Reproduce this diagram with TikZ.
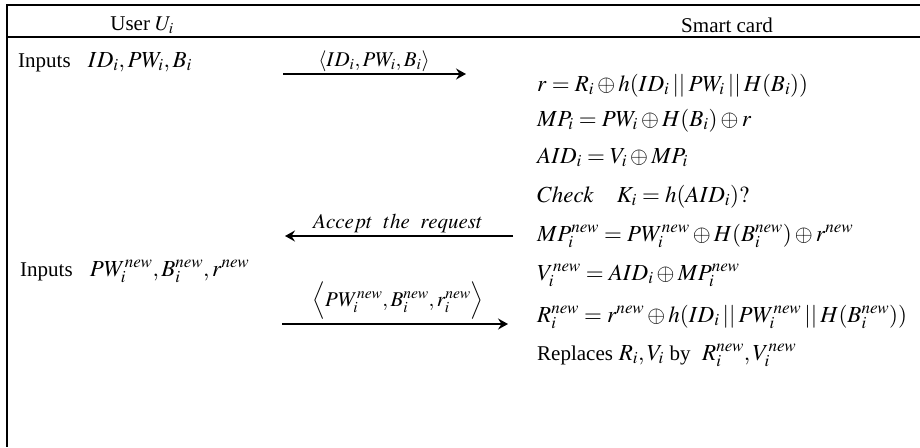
\documentclass[tikz,border=0pt]{standalone}
\usepackage{mathptmx}
\usepackage[no-math]{fontspec}
\setmainfont{Liberation Serif}
\usetikzlibrary{arrows.meta}
\tikzset{
  txt/.style={inner sep=0pt, font=\fontsize{21}{25}\selectfont},
  eqt/.style={inner sep=0pt, font=\fontsize{23}{27}\selectfont, text height=16pt, text depth=6pt},
  eq/.style={eqt, anchor=base west},
  rule/.style={line width=1.3pt},
  msg/.style={line width=1.6pt, -{Stealth[length=10pt,width=11pt,inset=3.5pt]}}
}
\newcommand{\cat}{\mathbin{||}}
\newcommand{\tx}[1]{{\fontsize{21}{25}\selectfont #1}}
\begin{document}
\begin{tikzpicture}[x=1pt,y=1pt]
\useasboundingbox (0,0) rectangle (920,-447);
% frame
\coordinate (tl) at (7,-5);
\coordinate (tr) at (920,-5);
\coordinate (hl) at (7,-37);
\coordinate (hr) at (920,-37);
\coordinate (bl) at (7,-447);
\draw[rule] (tr) -- (tl) -- (bl);
\draw[rule] (hl) -- (hr);
% header
\node[txt] (hu) at (142,-25) {User $U_i$};
\node[txt] (hs) at (727,-25) {Smart card};
% user side
\node[eq] (in1) at (18,-67) {\tx{Inputs}\ \ \ $ID_i, PW_i, B_i$};
\node[eq] (in2) at (20,-276) {\tx{Inputs}\ \ \ $PW_i^{new}, B_i^{new}, r^{new}$};
% messages
\coordinate (a1s) at (283,-74);
\coordinate (a1e) at (466,-74);
\draw[msg] (a1s) -- (a1e);
\node[txt, anchor=base] (m1) at (374,-66) {$\langle ID_i, PW_i, B_i\rangle$};
\coordinate (a2s) at (513,-236);
\coordinate (a2e) at (285,-236);
\draw[msg] (a2s) -- (a2e);
\node[txt, anchor=base] (m2) at (398,-228) {$Accept\ \ the\ \ request$};
\coordinate (a3s) at (282,-324);
\coordinate (a3e) at (508,-324);
\draw[msg] (a3s) -- (a3e);
\node[txt, anchor=south] (m3) at (398,-320) {$\Big\langle PW_i^{new}, B_i^{new}, r_i^{new}\Big\rangle$};
% smart card side
\node[eq] (e1) at (537,-91) {$r = R_i \oplus h(ID_i \cat PW_i \cat H(B_i))$};
\node[eq] (e2) at (537,-126) {$MP_i = PW_i \oplus H(B_i) \oplus r$};
\node[eq] (e3) at (537,-163) {$AID_i = V_i \oplus MP_i$};
\node[eq] (e4) at (537,-202) {$Check\quad K_i = h(AID_i)?$};
\node[eq] (e5) at (537,-241) {$MP_i^{new} = PW_i^{new} \oplus H(B_i^{new}) \oplus r^{new}$};
\node[eq] (e6) at (537,-280) {$V_i^{new} = AID_i \oplus MP_i^{new}$};
\node[eq] (e7) at (537,-322) {$R_i^{new} = r^{new} \oplus h(ID_i \cat PW_i^{new} \cat H(B_i^{new}))$};
\node[eq] (e8) at (537,-360) {\tx{Replaces} $R_i, V_i$ \tx{by}\ \ $R_i^{new}, V_i^{new}$};
\end{tikzpicture}
\end{document}
